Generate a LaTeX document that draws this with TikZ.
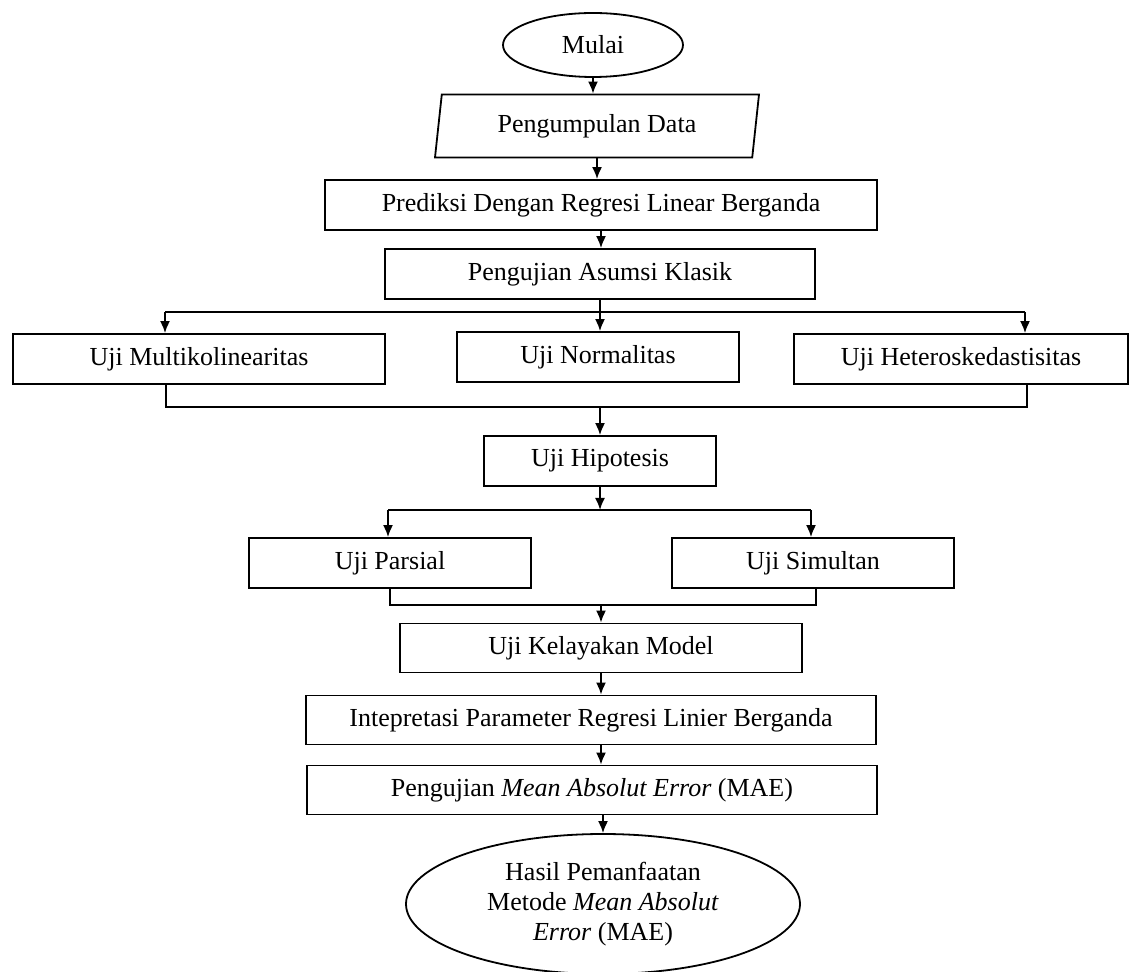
\documentclass[tikz,border=0pt]{standalone}
\usepackage{fontspec}
\setmainfont{Liberation Serif}
\usetikzlibrary{shapes.geometric,arrows.meta}

\begin{document}
\begin{tikzpicture}[x=0.5pt,y=-0.5pt,
    font=\fontsize{13}{15}\selectfont,
    line width=0.9pt,
    box/.style={draw,rectangle,minimum height=25pt,inner sep=0pt},
    term/.style={draw,ellipse,inner sep=0pt},
    arr/.style={-{Latex[length=6pt,width=5pt]}}]
  \useasboundingbox (0,0) rectangle (1134,972);
  % main column
  \node[term,minimum width=90pt,minimum height=32pt] (mulai) at (593,45) {Mulai};
  \node[draw,trapezium,trapezium left angle=74,trapezium right angle=106,
        trapezium stretches body,minimum width=162pt,minimum height=31.5pt,
        inner sep=0pt] (data) at (597,126) {Pengumpulan Data};
  \node[box,minimum width=276pt] (pred) at (601,205) {Prediksi Dengan Regresi Linear Berganda};
  \node[box,minimum width=215pt] (asumsi) at (600,274) {Pengujian Asumsi Klasik};
  % classic assumption tests
  \node[box,minimum width=186pt] (multi) at (199,359) {Uji Multikolinearitas};
  \node[box,minimum width=141pt] (normal) at (598,357) {Uji Normalitas};
  \node[box,minimum width=167pt] (hetero) at (961,359) {Uji Heteroskedastisitas};
  \node[box,minimum width=116pt] (hip) at (600,461) {Uji Hipotesis};
  % hypothesis tests
  \node[box,minimum width=141pt] (parsial) at (390,563) {Uji Parsial};
  \node[box,minimum width=141pt] (simultan) at (813,563) {Uji Simultan};
  \node[box,minimum width=201pt,minimum height=24.5pt] (layak) at (601,648) {Uji Kelayakan Model};
  \node[box,minimum width=285pt,minimum height=24.5pt] (interp) at (591,720) {Intepretasi Parameter Regresi Linier Berganda};
  \node[box,minimum width=285pt,minimum height=24.5pt] (mae) at (592,790) {Pengujian \textit{Mean Absolut Error} (MAE)};
  \node[term,minimum width=197pt,minimum height=70pt,align=center] (hasil) at (603,904)
    {Hasil Pemanfaatan\\ Metode \textit{Mean Absolut}\\ \textit{Error} (MAE)};

  \draw[arr] (mulai.south) -- (mulai.south |- data.north);
  \draw[arr] (data.south) -- (data.south |- pred.north);
  \draw[arr] (pred.south) -- (pred.south |- asumsi.north);

  % split to three tests
  \coordinate (sl) at (165,312);
  \coordinate (sr) at (1025,312);
  \draw (asumsi.south) -- (asumsi.south |- sl);
  \draw (sl) -- (sr);
  \draw[arr] (sl) -- (sl |- multi.north);
  \draw[arr] (asumsi.south |- sl) -- (asumsi.south |- normal.north);
  \draw[arr] (sr) -- (sr |- hetero.north);
  % join
  \coordinate (ml) at (166,407);
  \coordinate (mr) at (1027,407);
  \draw (ml |- multi.south) -- (ml) -- (mr) -- (mr |- hetero.south);
  \draw[arr] (hip.north |- ml) -- (hip.north);

  % split to two tests
  \coordinate (pl) at (388,510);
  \coordinate (pr) at (811,510);
  \draw[arr] (hip.south) -- (hip.south |- pl);
  \draw (pl) -- (pr);
  \draw[arr] (pl) -- (pl |- parsial.north);
  \draw[arr] (pr) -- (pr |- simultan.north);
  % join
  \coordinate (ql) at (390,605);
  \coordinate (qr) at (816,605);
  \draw (ql |- parsial.south) -- (ql) -- (qr) -- (qr |- simultan.south);
  \draw[arr] (layak.north |- ql) -- (layak.north);

  \draw[arr] (layak.south) -- (layak.south |- interp.north);
  \draw[arr] (layak.south |- interp.south) -- (layak.south |- mae.north);
  \draw[arr] (hasil.north |- mae.south) -- (hasil.north);
\end{tikzpicture}
\end{document}
